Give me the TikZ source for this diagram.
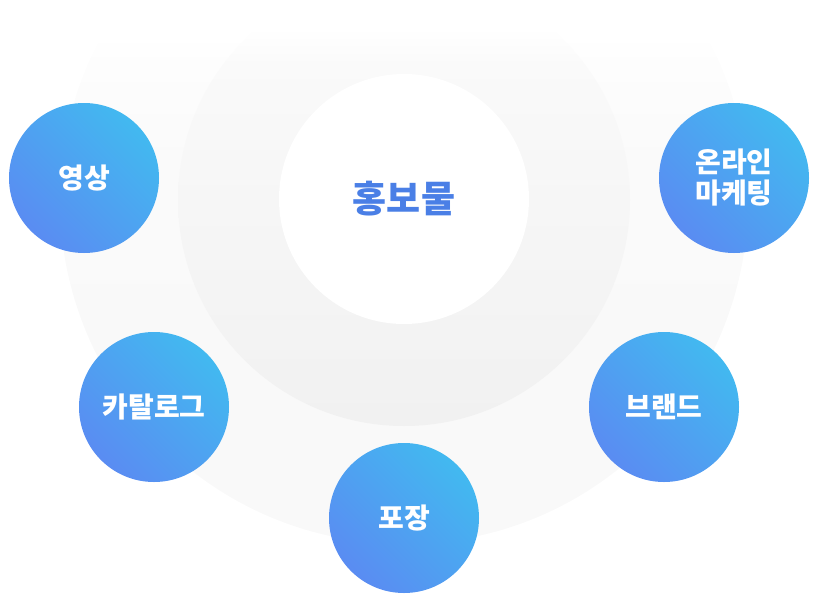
\documentclass[tikz,border=0pt]{standalone}
\usepackage{fontspec}
\newfontfamily\krfont{Noto Sans CJK KR}
\usepackage{xcolor}
\usepackage{tikz}

\definecolor{topicblue}{HTML}{5A8CF2}
\definecolor{topiccyan}{HTML}{42B9F0}
\definecolor{coreblue}{HTML}{4A7FE6}
\colorlet{outerlow}{gray!5}
\colorlet{outermid}{gray!4}
\colorlet{outerfade}{gray!1.5}
\colorlet{innerlow}{gray!11}
\colorlet{innermid}{gray!7}
\colorlet{innerfade}{gray!4}

% path box spans 25bp..75bp of each shading
\pgfdeclarehorizontalshading{topicgrad}{100bp}{color(0bp)=(topicblue); color(25bp)=(topicblue);
  color(75bp)=(topiccyan); color(100bp)=(topiccyan)}
\pgfdeclareverticalshading{outerring}{100bp}{color(0bp)=(outerlow); color(25bp)=(outerlow);
  color(52.5bp)=(outermid); color(60bp)=(outerfade); color(62bp)=(white); color(100bp)=(white)}
\pgfdeclareverticalshading{innerring}{100bp}{color(0bp)=(innerlow); color(25bp)=(innerlow);
  color(50bp)=(innermid); color(65bp)=(innerfade); color(69bp)=(white); color(100bp)=(white)}

\begin{document}
\begin{tikzpicture}[x=1pt, y=-1pt,
  topic/.style={circle, minimum size=150pt, inner sep=0pt,
                shading=topicgrad, shading angle=45,
                text=white, align=center,
                font=\krfont\bfseries\fontsize{28}{31}\selectfont},
  core/.style={circle, fill=white, minimum size=250pt, inner sep=0pt,
               text=coreblue, font=\krfont\bfseries\fontsize{37}{42}\selectfont}
]
\useasboundingbox (0,0) rectangle (817,603);
% soft rings behind
\shade[shading=outerring] (404,200) circle (344pt);
\shade[shading=innerring] (404,200) circle (226pt);
\node[core] (promo) at (404,199) {홍보물};

% five topics
\foreach \x/\y/\nm/\txt in {84/178/video/영상, 734/178/online/온라인\\마케팅,
    154/407/catalog/카탈로그, 664/407/brand/브랜드, 404/518/package/포장}{
  \node[topic] (\nm) at (\x,\y) {\txt};
}
\end{tikzpicture}
\end{document}
